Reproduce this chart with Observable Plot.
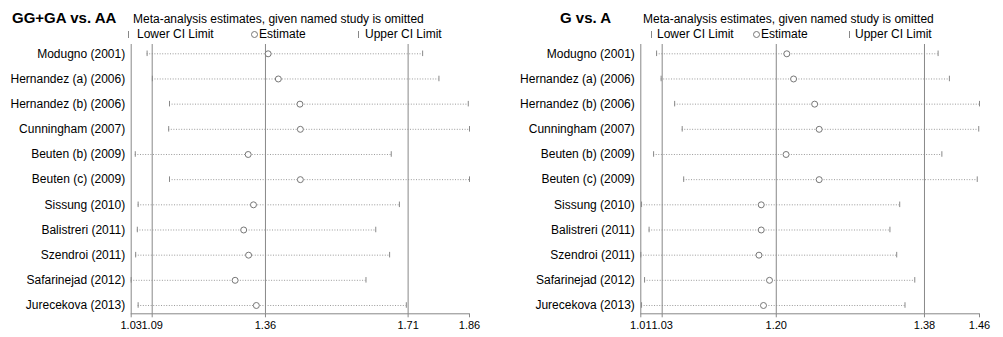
<!DOCTYPE html>
<html>
<head>
<meta charset="utf-8">
<script src="https://cdn.jsdelivr.net/npm/d3@7"></script>
<script src="https://cdn.jsdelivr.net/npm/@observablehq/plot@0.6"></script>
<style>
  html, body { margin: 0; padding: 0; background: #fff; }
  #root { position: relative; width: 1003px; height: 337px; overflow: hidden;
          font-family: 'Liberation Sans', Arial, sans-serif; color: #000; }
  .abs { position: absolute; white-space: nowrap; z-index: 2; }
  .title { font-weight: bold; font-size: 15px; line-height: 15px; }
  .sub { font-size: 12px; line-height: 12px; }
  .leg { font-size: 12px; line-height: 12px; }
  .bar { position: absolute; z-index: 2; width: 1px; height: 7px; background: #888; }
  .circ { position: absolute; z-index: 2; width: 5px; height: 5px; border: 1px solid #777; border-radius: 50%; background: #fff; }
  .panel { position: absolute; top: 0; z-index: 1; }
</style>
</head>
<body>
<div id="root">
  <div id="left" class="panel" style="left:0px;"></div>
  <div id="right" class="panel" style="left:500px;"></div>

  <div class="abs title" style="left:12px; top:10px;">GG+GA vs. AA</div>
  <div class="abs sub" style="left:133px; top:13px;">Meta-analysis estimates, given named study is omitted</div>
  <div class="bar" style="left:128px; top:31px;"></div>
  <div class="abs leg" style="left:137px; top:28px;">Lower CI Limit</div>
  <div class="circ" style="left:251px; top:31px;"></div>
  <div class="abs leg" style="left:259px; top:28px;">Estimate</div>
  <div class="bar" style="left:358px; top:31px;"></div>
  <div class="abs leg" style="left:365px; top:28px;">Upper CI Limit</div>

  <div class="abs title" style="left:560px; top:10px;">G vs. A</div>
  <div class="abs sub" style="left:643px; top:13px;">Meta-analysis estimates, given named study is omitted</div>
  <div class="bar" style="left:651px; top:31px;"></div>
  <div class="abs leg" style="left:657px; top:28px;">Lower CI Limit</div>
  <div class="circ" style="left:753px; top:31px;"></div>
  <div class="abs leg" style="left:761px; top:28px;">Estimate</div>
  <div class="bar" style="left:849px; top:31px;"></div>
  <div class="abs leg" style="left:855px; top:28px;">Upper CI Limit</div>
</div>
<script>
const studies = ["Modugno (2001)", "Hernandez (a) (2006)", "Hernandez (b) (2006)", "Cunningham (2007)",
  "Beuten (b) (2009)", "Beuten (c) (2009)", "Sissung (2010)", "Balistreri (2011)",
  "Szendroi (2011)", "Safarinejad (2012)", "Jurecekova (2013)"];

// GG+GA vs. AA
const leftLower = [1.069, 1.082, 1.124, 1.122, 1.040, 1.124, 1.047, 1.045, 1.041, 1.030, 1.047];
const leftEst   = [1.366, 1.391, 1.444, 1.445, 1.317, 1.445, 1.330, 1.306, 1.318, 1.285, 1.337];
const leftUpper = [1.745, 1.785, 1.857, 1.860, 1.668, 1.860, 1.688, 1.630, 1.664, 1.606, 1.705];
const leftDomain = [1.03, 1.86];
const leftRefs = [1.0815, 1.3594, 1.7094];
const leftTicks = [1.03, 1.0815, 1.3594, 1.7094, 1.86];
const leftTickLabels = ["1.03", "1.09", "1.36", "1.71", "1.86"];

// G vs. A
const rightLower = [1.031, 1.037, 1.055, 1.065, 1.027, 1.067, 1.011, 1.021, 1.010, 1.015, 1.011];
const rightEst   = [1.204, 1.213, 1.241, 1.247, 1.203, 1.247, 1.170, 1.170, 1.167, 1.181, 1.173];
const rightUpper = [1.405, 1.420, 1.460, 1.459, 1.410, 1.457, 1.354, 1.341, 1.350, 1.374, 1.361];
const rightDomain = [1.01, 1.46];
const rightRefs = [1.0384, 1.19, 1.3869];
const rightTicks = [1.01, 1.0384, 1.19, 1.3869, 1.46];
const rightTickLabels = ["1.01", "1.03", "1.20", "1.38", "1.46"];

const yDomain = [-0.37, 10.33];

function panel(lower, est, upper, xDomain, refs, ticks, tickLabels, width, mLeft, mRight) {
  const rows = studies.map((s, i) => ({i, lo: lower[i], est: est[i], hi: upper[i]}));
  return Plot.plot({
    width, height: 337,
    marginLeft: mLeft, marginRight: mRight, marginTop: 44, marginBottom: 23.7,
    style: {fontFamily: "'Liberation Sans', Arial, sans-serif", fontSize: "12px", color: "#000", background: "transparent", overflow: "visible"},
    x: {domain: xDomain},
    y: {domain: yDomain, reverse: true},
    marks: [
      Plot.ruleY(rows, {y: "i", x1: "lo", x2: "hi", stroke: "#9a9a9a", strokeWidth: 1, strokeDasharray: "1,1.6"}),
      Plot.ruleX(refs, {stroke: "#888", strokeWidth: 1}),
      Plot.ruleX([xDomain[0]], {stroke: "#888", strokeWidth: 1}),
      Plot.ruleY([yDomain[1]], {stroke: "#888", strokeWidth: 1}),
      Plot.ruleX(rows, {x: "lo", y1: d => d.i - 0.11, y2: d => d.i + 0.11, stroke: "#888", strokeWidth: 1}),
      Plot.ruleX(rows, {x: "hi", y1: d => d.i - 0.11, y2: d => d.i + 0.11, stroke: "#888", strokeWidth: 1}),
      Plot.dot(rows, {x: "est", y: "i", r: 3, stroke: "#777", fill: "#fff", strokeWidth: 1}),
      Plot.axisY({ticks: d3.range(studies.length), tickFormat: i => studies[i], tickSize: 0, tickPadding: 6, label: null, fontSize: 12}),
      Plot.axisX({ticks, tickFormat: d => tickLabels[ticks.indexOf(d)], tickSize: 4, tickPadding: 3, label: null, fontSize: 11, stroke: "#888"})
    ]
  });
}

document.getElementById("left").append(
  panel(leftLower, leftEst, leftUpper, leftDomain, leftRefs, leftTicks, leftTickLabels, 500, 130.7, 31));
document.getElementById("right").append(
  panel(rightLower, rightEst, rightUpper, rightDomain, rightRefs, rightTicks, rightTickLabels, 503, 140.3, 24));
</script>
</body>
</html>
